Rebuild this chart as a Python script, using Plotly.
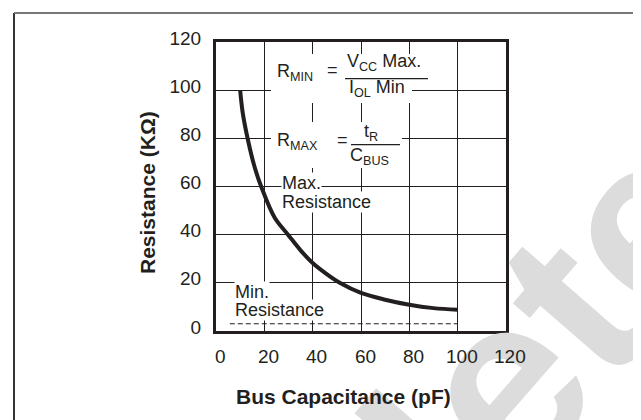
import plotly.graph_objects as go

# ---- data ----
cap_pf = [10, 11, 13.2, 16, 18.8, 24.3, 29.8, 35, 40, 45, 51.2, 60, 70, 80, 90, 100]
r_max_kohm = [100, 91, 79.4, 68, 59.7, 47, 40, 33.5, 28.2, 24.2, 20, 15.8, 13, 10.9, 9.5, 8.8]
min_x = [5.7, 100]
min_r = [3, 3]
x_ticks = [0, 20, 40, 60, 80, 100, 120]
y_ticks = [0, 20, 40, 60, 80, 100, 120]

FONT = "Liberation Sans, Arial, Helvetica, sans-serif"
INK = "#231f20"
L, R, T, B = 208, 498, 34, 323  # plot box in px

def px(x):
    return (x - L) / (R - L)

def py(y):
    return (B - y) / (B - T)

def dx(x):
    return (x - L) * 120 / (R - L)

def dy(y):
    return (B - y) * 120 / (B - T)

fig = go.Figure()
fig.add_trace(go.Scatter(x=cap_pf, y=r_max_kohm, mode="lines",
                         line=dict(color=INK, width=4, shape="spline", smoothing=1.0),
                         hoverinfo="skip", showlegend=False))
fig.add_trace(go.Scatter(x=min_x, y=min_r, mode="lines",
                         line=dict(color=INK, width=1.2, dash="5px,3px"),
                         hoverinfo="skip", showlegend=False))

fig.update_layout(
    template="none",
    width=641, height=420,
    margin=dict(l=L, r=641 - R, t=T, b=420 - B, pad=0),
    paper_bgcolor="white", plot_bgcolor="white",
    font=dict(family=FONT, color=INK, size=19),
    showlegend=False,
)
fig.update_xaxes(range=[0, 120], tickvals=x_ticks, showticklabels=False,
                 showgrid=True, gridcolor=INK, gridwidth=1, zeroline=False,
                 showline=True, linecolor=INK, linewidth=3, mirror=True, automargin=False,
                 ticks="")
fig.update_yaxes(range=[0, 120], tickvals=y_ticks, ticktext=[str(v) for v in y_ticks],
                 showgrid=True, gridcolor=INK, gridwidth=1, zeroline=False,
                 showline=True, linecolor=INK, linewidth=3, mirror=True, automargin=False,
                 ticks="", ticklabelstandoff=8, ticklabelshift=-4,
                 tickfont=dict(size=19))

# watermark (first annotation, so every later text is drawn over it)
fig.add_annotation(text="<b>Obsolete</b>", xref="paper", yref="paper",
                   x=px(338.5), y=py(553.7), xanchor="center", yanchor="middle",
                   showarrow=False, textangle=-49,
                   font=dict(size=241, color="#dcdcdc", family=FONT))

# x tick labels, placed on the x axis scale (drawn above the watermark)
for v in x_ticks:
    fig.add_annotation(text=str(v), x=v, xref="x", y=0, yref="paper",
                       xanchor="center", yanchor="middle", xshift=4, yshift=-25,
                       showarrow=False, font=dict(size=19, family=FONT, color=INK))

# axis titles
fig.add_annotation(text="<b>Bus Capacitance (pF)</b>", xref="paper", yref="paper",
                   x=px(335), y=py(388), xanchor="center", yanchor="middle",
                   showarrow=False, font=dict(size=21, family=FONT, color=INK))
fig.add_annotation(text="<b>Resistance (KΩ)</b>", xref="paper", yref="paper",
                   x=px(139), y=py(185), xanchor="center", yanchor="middle",
                   showarrow=False, textangle=-90, font=dict(size=21, family=FONT, color=INK))

# white knock-out boxes behind the formulas (break the grid like the original)
def white_box(x0, x1, y0, y1):
    fig.add_shape(type="rect", xref="x", yref="y", x0=dx(x0), x1=dx(x1), y0=dy(y1), y1=dy(y0),
                  fillcolor="white", line=dict(width=0), layer="above")

white_box(263, 422, 46, 72)
white_box(263, 404, 72, 95)
white_box(263, 394, 114, 160)

# fraction bars
fig.add_shape(type="line", x0=dx(337), x1=dx(420), y0=dy(70.7), y1=dy(70.7), xref="x", yref="y",
              line=dict(color=INK, width=1.2))
fig.add_shape(type="line", x0=dx(343), x1=dx(392), y0=dy(136.7), y1=dy(136.7), xref="x", yref="y",
              line=dict(color=INK, width=1.2))

def txt(s, x, y, bg=True, size=18):
    fig.add_annotation(text=s, x=dx(x), y=dy(y), xref="x", yref="y", showarrow=False,
                       xanchor="left", yanchor="middle",
                       bgcolor="white" if bg else "rgba(0,0,0,0)",
                       borderpad=0, font=dict(size=size, family=FONT, color=INK))

txt("R<sub>MIN</sub>", 268, 64.5, bg=False)
txt("=", 318, 61.5, bg=False)
txt("V<sub>CC</sub> Max.", 338, 54.5, bg=False)
txt("I<sub>OL</sub> Min", 340, 80, bg=False)
txt("R<sub>MAX</sub>", 268, 133.8, bg=False)
txt("=", 328, 131.6, bg=False)
txt("t<sub>R</sub>", 355, 124.5, bg=False)
txt("C<sub>BUS</sub>", 341, 148.4, bg=False)
txt("Max.", 273, 175)
txt("Resistance", 273, 194)
txt("Min.", 226, 283.5)
txt("Resistance", 226, 301.5)

# outer frame
fig.add_shape(type="line", xref="paper", yref="paper",
              x0=px(6), x1=px(6), y0=py(5), y1=py(425),
              line=dict(color="#333333", width=2))
fig.add_shape(type="line", xref="paper", yref="paper",
              x0=px(6), x1=px(640), y0=py(5), y1=py(5),
              line=dict(color="#777777", width=2))

fig.write_html("out.html")
